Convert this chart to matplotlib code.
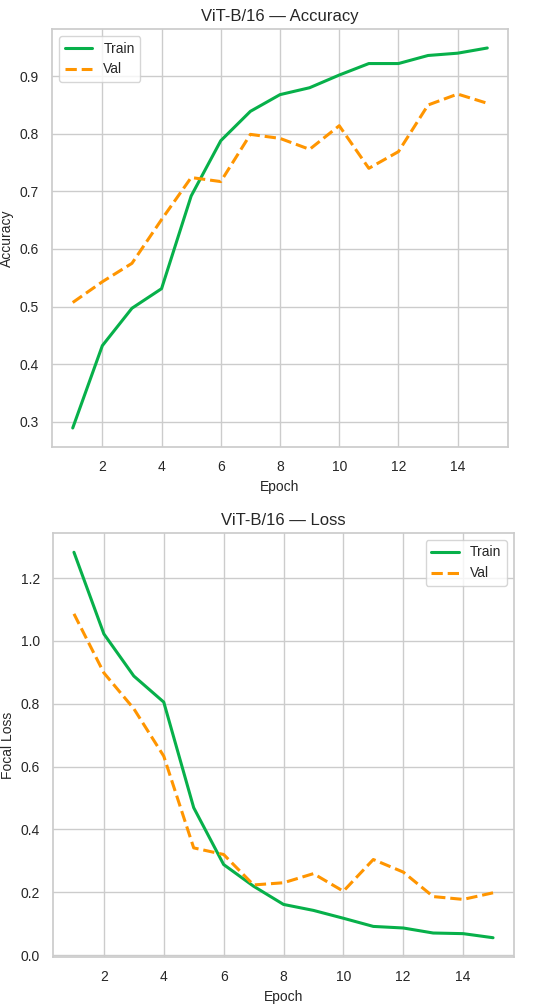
import matplotlib
matplotlib.use("Agg")
import matplotlib.pyplot as plt
import seaborn as sns

sns.set_theme(style="whitegrid")
plt.rcParams['font.family'] = ['Arial', 'Liberation Sans', 'DejaVu Sans']

epochs = list(range(1, 16))
train_acc = [0.289, 0.432, 0.497, 0.531, 0.692, 0.788, 0.839, 0.868, 0.880,
             0.902, 0.922, 0.922, 0.936, 0.940, 0.949]
val_acc = [0.507, 0.543, 0.575, 0.651, 0.724, 0.717, 0.799, 0.792, 0.773,
           0.814, 0.740, 0.769, 0.850, 0.869, 0.853]
train_loss = [1.282, 1.022, 0.888, 0.805, 0.469, 0.288, 0.219, 0.161, 0.142,
              0.117, 0.091, 0.086, 0.070, 0.068, 0.055]
val_loss = [1.086, 0.898, 0.784, 0.633, 0.341, 0.320, 0.223, 0.230, 0.259,
            0.203, 0.304, 0.264, 0.186, 0.177, 0.198]

green = "#07b04a"
orange = "#ff9500"

fig, (ax1, ax2) = plt.subplots(2, 1, figsize=(5.5, 10.05), dpi=100)

ax1.plot(epochs, train_acc, color=green, lw=2.2, label="Train")
ax1.plot(epochs, val_acc, color=orange, lw=2.2, ls="--", label="Val")
ax1.set_title("ViT-B/16 \u2014 Accuracy", fontsize=12)
ax1.set_xlabel("Epoch", fontsize=10)
ax1.set_ylabel("Accuracy", fontsize=10)
ax1.legend(loc="upper left", fontsize=10)
ax1.set_xticks([2, 4, 6, 8, 10, 12, 14])
ax1.tick_params(labelsize=10)

ax2.plot(epochs, train_loss, color=green, lw=2.2, label="Train")
ax2.plot(epochs, val_loss, color=orange, lw=2.2, ls="--", label="Val")
ax2.set_title("ViT-B/16 \u2014 Loss", fontsize=12)
ax2.set_xlabel("Epoch", fontsize=10)
ax2.set_ylabel("Focal Loss", fontsize=10)
ax2.legend(loc="upper right", fontsize=10)
ax2.set_xticks([2, 4, 6, 8, 10, 12, 14])
ax2.tick_params(labelsize=10)

fig.subplots_adjust(left=0.095, right=0.93, top=0.971, bottom=0.048, hspace=0.21)
ax1.set_position([52/550, 1 - 447/1005, (508-52)/550, (447-29)/1005])
ax2.set_position([53/550, 1 - 957/1005, (514-53)/550, (957-533)/1005])

fig.savefig("out.png", dpi=100)
